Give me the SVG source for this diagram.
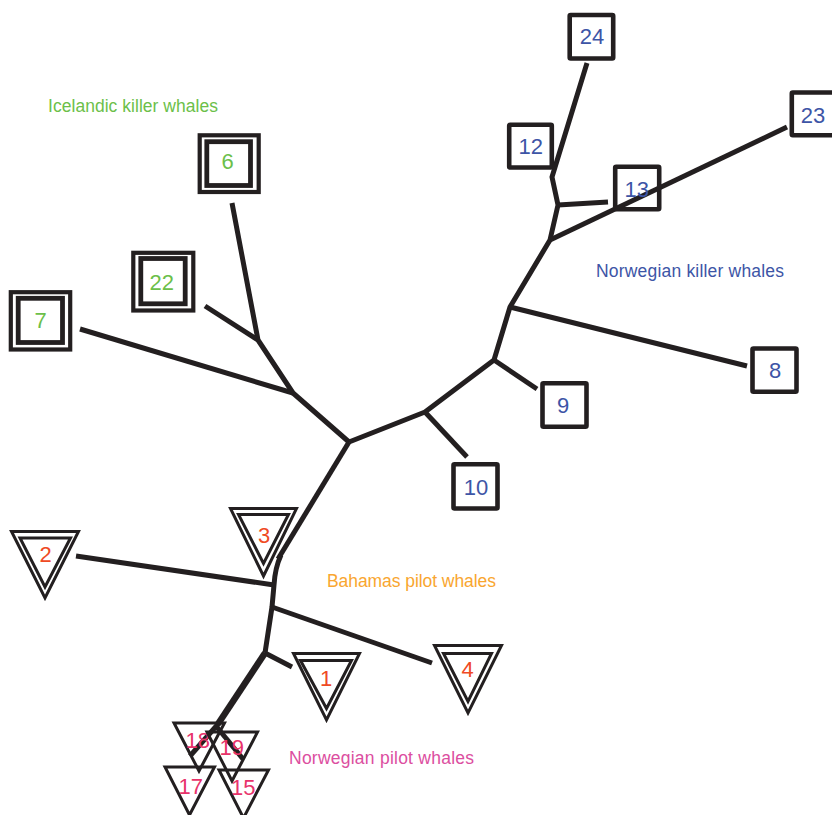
<svg xmlns="http://www.w3.org/2000/svg" width="832" height="815" viewBox="0 0 832 815">
<style>
.bg{fill:#ffffff}
.edge{fill:none;stroke:#231f20;stroke-width:5;stroke-linecap:butt;stroke-linejoin:round}
.box{fill:none;stroke:#231f20;stroke-width:4.6;stroke-linejoin:round}
.box2o{fill:none;stroke:#231f20;stroke-width:4.2}
.box2i{fill:none;stroke:#231f20;stroke-width:4.8}
.tri{fill:none;stroke:#231f20;stroke-width:3;stroke-linejoin:miter}
.num{font-family:"Liberation Sans",Arial,sans-serif;font-size:22px;text-anchor:middle}
.lbl{font-family:"Liberation Sans",Arial,sans-serif;font-size:17.5px}
.blue{fill:#3d55a6}
.green{fill:#6cbf4a}
.red{fill:#ef4a24}
.pink{fill:#e8336b}
</style>
<rect class="bg" x="0" y="0" width="832" height="815"/>
<g id="connectors">
<polyline class="edge" points="349,442 293,393 258,340 232,203"/>
<line class="edge" x1="258" y1="340" x2="205" y2="306"/>
<line class="edge" x1="293" y1="393" x2="80" y2="329"/>
<polyline class="edge" points="349,442 425,412 494,360 510,307 550,240 558,205 552,177 587,63"/>
<line class="edge" x1="425" y1="412" x2="467" y2="457"/>
<line class="edge" x1="494" y1="360" x2="537" y2="389"/>
<line class="edge" x1="510" y1="307" x2="747" y2="366"/>
<line class="edge" x1="550" y1="240" x2="787" y2="127"/>
<line class="edge" x1="558" y1="205" x2="608" y2="202"/>
<line class="edge" x1="349" y1="442" x2="278" y2="559"/>
<path class="edge" d="M281,555 Q275,568 274,585 L272,607 L265,653"/>
<line class="edge" x1="265" y1="653" x2="218" y2="724" style="stroke-width:6.5"/>
<line class="edge" x1="219" y1="723" x2="190" y2="756"/>
<line class="edge" x1="274" y1="585" x2="76" y2="556"/>
<line class="edge" x1="272" y1="607" x2="432" y2="663"/>
<line class="edge" x1="265" y1="653" x2="292" y2="667"/>
<line class="edge" x1="216" y1="726" x2="243" y2="759"/>
</g>
<g id="n24"><rect class="box" x="569.7" y="15" width="43.5" height="43.5" rx="1"/><text class="num blue" x="592" y="44">24</text></g>
<g id="n12"><rect class="box" x="509.2" y="124.8" width="42.6" height="42.7" rx="1"/><text class="num blue" x="530.7" y="154">12</text></g>
<g id="n13"><rect class="box" x="615.2" y="166.8" width="44" height="42.5" rx="1"/><text class="num blue" x="636.7" y="196.5">13</text></g>
<g id="n23"><rect class="box" x="791.8" y="92.5" width="44" height="42.7" rx="1"/><text class="num blue" x="813" y="122.5">23</text></g>
<g id="n8"><rect class="box" x="752.5" y="348.5" width="44" height="43.3" rx="1"/><text class="num blue" x="775" y="377.5">8</text></g>
<g id="n9"><rect class="box" x="542.5" y="383.2" width="44" height="43.6" rx="1"/><text class="num blue" x="563" y="413">9</text></g>
<g id="n10"><rect class="box" x="453.5" y="464.2" width="44" height="44.3" rx="1"/><text class="num blue" x="476" y="495">10</text></g>
<g id="n6"><rect class="box2o" x="199.7" y="135.3" width="59" height="56.7"/><rect class="box2i" x="206.8" y="141.7" width="43.7" height="43.8"/><text class="num green" x="227.7" y="168.5">6</text></g>
<g id="n22"><rect class="box2o" x="133.3" y="252.8" width="60" height="57.7"/><rect class="box2i" x="140.8" y="258.5" width="44.4" height="45.3"/><text class="num green" x="161.7" y="289.5">22</text></g>
<g id="n7"><rect class="box2o" x="10.8" y="292.2" width="59.4" height="57.3"/><rect class="box2i" x="18.2" y="298.3" width="44.3" height="44.2"/><text class="num green" x="40.7" y="327.5">7</text></g>
<g id="n2"><polygon class="tri" points="11.5,531.5 78.5,531.5 45,598"/><polygon class="tri" points="20,538 70.5,538 45,587"/><text class="num red" x="45.7" y="561.5">2</text></g>
<g id="n3"><polygon class="tri" points="230.5,508.5 296.5,508.5 263.5,576"/><polygon class="tri" points="238.5,514.5 288.5,514.5 263.5,563.5"/><text class="num red" x="264" y="542.5">3</text></g>
<g id="n1"><polygon class="tri" points="293.5,653.5 359.5,653.5 326.5,720"/><polygon class="tri" points="300.5,660.5 351.5,660.5 326.5,708.5"/><text class="num red" x="326" y="685.5">1</text></g>
<g id="n4"><polygon class="tri" points="434.5,645.5 501.5,645.5 468,713"/><polygon class="tri" points="443.5,653.5 491.5,653.5 468,701.5"/><text class="num red" x="467.7" y="677">4</text></g>
<g id="n18"><polygon class="tri" points="174,723 224.5,723 199,771"/><text class="num pink" x="197.7" y="747.5">18</text></g>
<g id="n19"><polygon class="tri" points="207,732 257.5,732 232,781"/><text class="num pink" x="231.7" y="755">19</text></g>
<g id="n17"><polygon class="tri" points="165,767 214.5,767 189.5,815"/><text class="num pink" x="190.7" y="793.5">17</text></g>
<g id="n15"><polygon class="tri" points="219,770 268.5,770 243.5,818"/><text class="num pink" x="243.3" y="795">15</text></g>
<g id="labels">
<text class="lbl" x="48" y="112" fill="#6cbf4a" textLength="170">Icelandic killer whales</text>
<text class="lbl" x="596" y="277" fill="#3d55a6" textLength="188">Norwegian killer whales</text>
<text class="lbl" x="327" y="587" fill="#f9a630" textLength="169">Bahamas pilot whales</text>
<text class="lbl" x="289" y="764" fill="#dc4ea0" textLength="185">Norwegian pilot whales</text>
</g>
</svg>
